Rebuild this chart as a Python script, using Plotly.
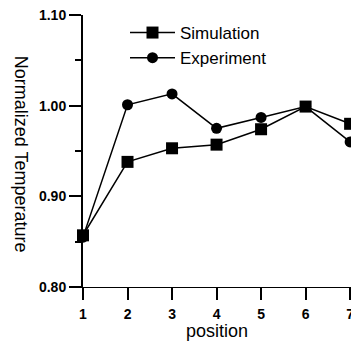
import plotly.graph_objects as go

positions = [1, 2, 3, 4, 5, 6, 7]
simulation = [0.857, 0.938, 0.953, 0.957, 0.974, 0.999, 0.980]
experiment = [0.855, 1.001, 1.013, 0.975, 0.987, 0.999, 0.960]
y_ticks = [0.80, 0.90, 1.00, 1.10]
y_tick_labels = ["0.80", "0.90", "1.00", "1.10"]
x_ticks = [1, 2, 3, 4, 5, 6, 7]

W, H = 351, 341
L, R, T, B = 83, 0, 15, 54
pw = W - L - R

fig = go.Figure()
fig.add_trace(go.Scatter(x=positions, y=simulation, name="Simulation",
                         mode="lines+markers", cliponaxis=False,
                         line=dict(color="black", width=1.5),
                         marker=dict(symbol="square", size=12, color="black")))
fig.add_trace(go.Scatter(x=positions, y=experiment, name="Experiment",
                         mode="lines+markers", cliponaxis=False,
                         line=dict(color="black", width=1.5),
                         marker=dict(symbol="circle", size=11, color="black")))

tickfont = dict(size=14, family="Liberation Sans, Arial", weight="bold", color="black")

fig.update_layout(
    width=W, height=H,
    margin=dict(l=L, r=R, t=T, b=B, autoexpand=False),
    plot_bgcolor="white", paper_bgcolor="white",
    font=dict(family="Liberation Sans, Arial, sans-serif", color="black"),
    showlegend=True,
    legend=dict(x=(125 - L) / pw, y=1.0, xanchor="left", yanchor="top",
                bgcolor="rgba(0,0,0,0)", font=dict(size=17),
                itemwidth=45, tracegroupgap=0, itemsizing="trace"),
    xaxis=dict(range=[1, 7.02], tickvals=x_ticks, ticks="outside", ticklen=12,
               tickwidth=1.5, tickcolor="black", showgrid=False, zeroline=False,
               showline=True, linecolor="black", linewidth=1,
               tickfont=tickfont, ticklabelstandoff=2, ticklabeloverflow="allow",
               title=dict(text="position", font=dict(size=18), standoff=2)),
    yaxis=dict(range=[0.8, 1.1], tickvals=y_ticks, ticktext=y_tick_labels,
               ticks="outside", ticklen=12, tickwidth=1.5, tickcolor="black",
               showgrid=False, zeroline=False, showline=True, linecolor="black",
               linewidth=2, tickfont=tickfont,
               minor=dict(tickvals=[0.85, 0.95, 1.05], ticks="outside", ticklen=6,
                          tickcolor="black", tickwidth=1.5)),
)

fig.add_annotation(text="Normalized Temperature", textangle=90,
                   xref="paper", yref="paper", x=(21 - L) / pw, y=0.49,
                   xanchor="center", yanchor="middle", showarrow=False,
                   font=dict(size=18, color="black"))

fig.write_html("out.html", config={"displayModeBar": False},
               post_script="document.body.style.margin='0';document.body.style.overflow='hidden';")
